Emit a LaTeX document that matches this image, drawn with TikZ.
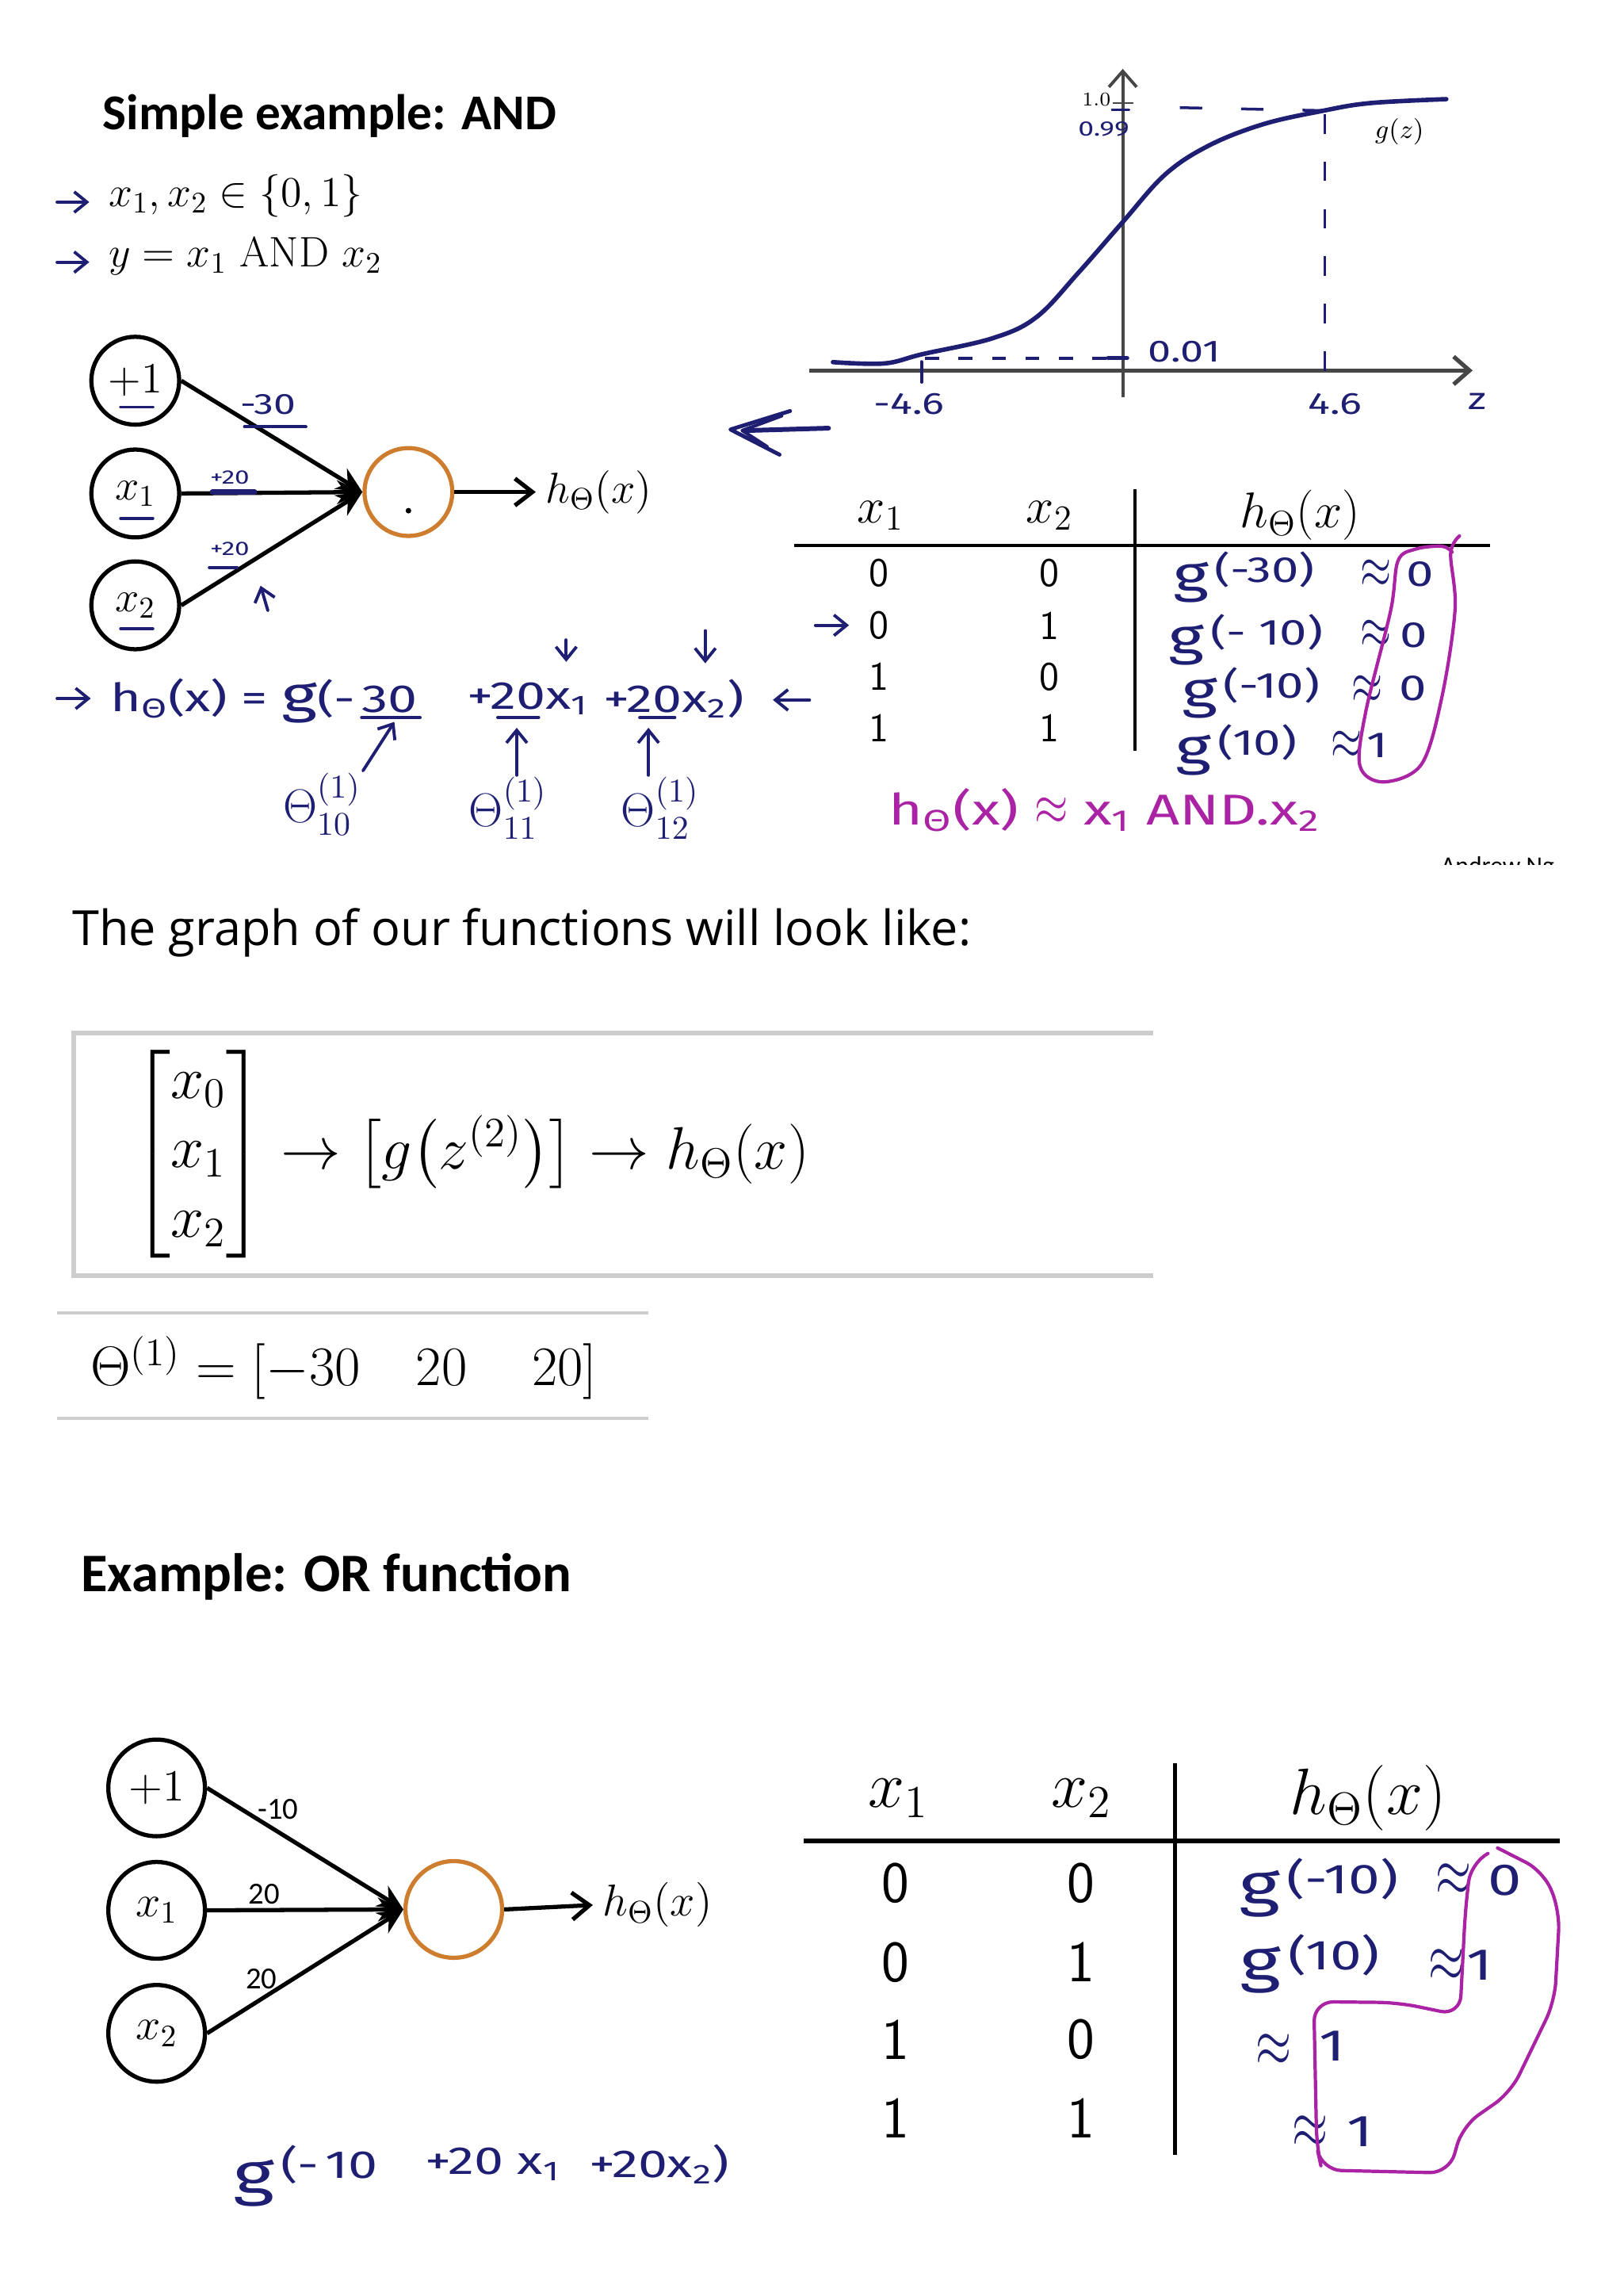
\RequirePackage{fix-cm}
\documentclass[tikz,border=0pt]{standalone}
\usepackage{amsmath}
\usepackage{graphicx}
\usepackage{fontspec}
\usetikzlibrary{arrows.meta}

\newfontfamily\slidefont{Carlito}
\newfontfamily\bodyfont{Open Sans}
\newfontfamily\handfont[FakeStretch=1.35]{Fira Sans}

\definecolor{ink}{RGB}{30,30,115}
\definecolor{pen}{RGB}{170,35,165}
\definecolor{neuron}{RGB}{205,125,45}
\definecolor{framegray}{RGB}{205,205,205}
\definecolor{axisgray}{RGB}{70,70,70}

\newcommand{\fs}[1]{\fontsize{#1}{#1}\selectfont}
\newcommand{\hg}[1]{\scalebox{1.4}{g}\,\raisebox{0.5ex}{(#1)}}
\newcommand{\hap}{\scalebox{1.1}[1.6]{$\approx$}}

\begin{document}
\begin{tikzpicture}[
    x=0.018467cm,
    y=-0.018467cm,
    innode/.style={circle, draw, line width=1.5pt, minimum size=1.108cm, inner sep=0pt, font=\fs{15.5}},
    outnode/.style={circle, draw=neuron, line width=1.5pt, minimum size=1.108cm, inner sep=0pt},
    wire/.style={line width=1.5pt, -{Stealth[length=3.2mm, width=3mm]}},
    outwire/.style={line width=1.5pt, -{Straight Barb[length=2.2mm, width=3.4mm]}},
    hand/.style={text=ink, inner sep=0.5pt, font=\handfont\fs{#1}},
    hand/.default=14,
    handline/.style={draw=ink, line width=1.1pt, line cap=round},
    handarrow/.style={draw=ink, line width=1.1pt, line cap=round, -{Straight Barb[length=1.6mm, width=2.6mm]}},
    penline/.style={draw=pen, line width=1.2pt, line cap=round, line join=round},
    rulebar/.style={line width=1.3pt},
    framebar/.style={draw=framegray, line width=1.7pt},
    thinbar/.style={draw=framegray, line width=1pt},
    digit/.style={font=\sffamily\fs{#1}, inner sep=0pt},
    digit/.default=14.5,
    axisline/.style={draw=axisgray, line width=1.1pt, -{Straight Barb[length=2mm, width=3.5mm]}}
  ]
  \useasboundingbox (0,0) rectangle (1109,1568);

  % --- AND: statement ---
  \node[anchor=base west, inner sep=0pt, font=\slidefont\bfseries\fs{18}] (title) at (70,88.4) {Simple example: AND};
  \node[anchor=base west, inner sep=0pt, font=\fs{15.3}] (dom) at (74,140.8) {$x_1, x_2 \in \{0,1\}$};
  \node[anchor=base west, inner sep=0pt, font=\fs{15.3}] (fn) at (74,182.3) {$y = x_1\ \mathrm{AND}\ x_2$};
  \coordinate (m1) at (39,138);
  \coordinate (m1e) at (61,138);
  \coordinate (m2) at (39,179);
  \coordinate (m2e) at (61,179);
  \draw[handarrow] (m1) -- (m1e);
  \draw[handarrow] (m2) -- (m2e);

  % --- AND: network ---
  \node[innode] (b1)  at (92.4,260)   {$+1$};
  \node[innode] (in1) at (92.4,337)   {$x_1$};
  \node[innode] (in2) at (92.4,413.4) {$x_2$};
  \node[outnode] (out) at (279,336) {};
  \fill ([yshift=-6.7pt]out.center) circle (1pt);
  \node[anchor=west, font=\fs{15.5}] (hyp) at (366,336) {$h_\Theta(x)$};

  \draw[wire] (b1.east) -- (out.west);
  \draw[wire] (in1.east) -- (out.west);
  \draw[wire] (in2.east) -- (out.west);
  \draw[outwire] (out.east) -- (hyp.west);

  % weights written by hand
  \node[hand=10.5] (w0) at (183,276) {-30};
  \node[hand=7] (w1) at (157,326) {+20};
  \node[hand=7] (w2) at (157,375) {+20};
  \draw[handline] (167,291.5) -- (209,291.5);
  \draw[handline, line width=1.8pt] (145,336) -- (174,336);
  \draw[handline] (143,387.5) -- (162,387.5);
  \draw[handline] ([shift={(-10,18)}]b1.center) -- ([shift={(12,18)}]b1.center);
  \draw[handline] ([shift={(-10,17)}]in1.center) -- ([shift={(12,17)}]in1.center);
  \draw[handline] ([shift={(-10,16)}]in2.center) -- ([shift={(12,16)}]in2.center);
  \coordinate (sa) at (183,417);
  \coordinate (sb) at (178,400);
  \draw[handarrow] (sa) -- (sb);

  % big arrow back to the network
  \coordinate (bigtail) at (566,292.4);
  \coordinate (bigneck) at (511,294);
  \coordinate (bigtip) at (499,293.3);
  \draw[handline, line width=1.7pt] (bigtail) -- (bigneck);
  \draw[handline, line width=1.4pt, line join=round] (539.7,280.7) -- (bigtip) -- (532.5,310.5);
  \draw[handline, line width=1.2pt, line join=round] (534,284) -- (507,294) -- (524,305);

  % --- AND: hypothesis written out ---
  \node[hand, anchor=west] (fh)  at (74,477)  {h\textsubscript{Θ}(x) =};
  \node[hand, anchor=west] (fg)  at (191,479) {\scalebox{1.3}{g}(-\,30};
  \node[hand, anchor=west] (fx1) at (318,477) {+20x\textsubscript{1}};
  \node[hand, anchor=west] (fx2) at (411,477) {+20x\textsubscript{2})};
  \coordinate (fa) at (39,477);
  \coordinate (fae) at (62,477);
  \coordinate (fb) at (553,478);
  \coordinate (fc) at (528,478);
  \draw[handarrow] (fa) -- (fae);
  \draw[handarrow] (fb) -- (fc);
  \draw[handline] (247,490) -- (287,490);
  \draw[handline] (340,490) -- (368,490);
  \draw[handline] (437,490) -- (461,490);
  \coordinate (d1) at (386.8,437);
  \coordinate (d1e) at (386.8,452);
  \coordinate (d2) at (481.8,430.7);
  \coordinate (d2e) at (481.8,453);
  \draw[handarrow] (d1) -- (d1e);
  \draw[handarrow] (d2) -- (d2e);

  \node[hand=17] (t10) at (220,549) {$\Theta^{(1)}_{10}$};
  \node[hand=17] (t11) at (347,552) {$\Theta^{(1)}_{11}$};
  \node[hand=17] (t12) at (451,552) {$\Theta^{(1)}_{12}$};
  \coordinate (c10) at (269.4,493);
  \coordinate (c11) at (353,497);
  \coordinate (c12) at (443,497);
  \draw[handarrow] (t10.north east) -- (c10);
  \draw[handarrow] (t11.north -| c11) -- (c11);
  \draw[handarrow] (t12.north -| c12) -- (c12);

  % --- AND: sigmoid ---
  \coordinate (zl) at (553,253);
  \coordinate (zr) at (1006,253);
  \coordinate (gb) at (767,271);
  \coordinate (gt) at (767,47);
  \draw[axisline, line width=1.5pt] (zl) -- (zr);
  \draw[axisline] (gb) -- (gt);
  \draw[axisgray, line width=0.8pt] (760,70.4) -- (774,70.4);
  \node[font=\fs{7}, inner sep=0pt] (one) at (749,68) {1.0};
  \draw[ink, line width=1.6pt, line cap=round] plot[smooth, tension=0.6] coordinates {
    (569,247.3) (604,248.2) (630,241.9) (678,231) (708,216.6) (737,185.9) (767,151.6)
    (796,119.1) (826,99.3) (863,84.8) (903,75.8) (936,70.4) (988,67.7)};
  \draw[ink, line width=1pt, dash pattern=on 5pt off 7pt] (632,244.6) -- (757,244.6);
  \draw[handline, line width=1.5pt] (757,244.6) -- (770,244.6);
  \draw[handline] (760,75) -- (771,75);
  \draw[ink, line width=1pt, dash pattern=on 8pt off 14pt] (806,73.5) -- (903,75.5);
  \draw[ink, line width=1pt, dash pattern=on 7pt off 10pt] (905,78) -- (905,262);
  \draw[handline] (629.5,247) -- (629.5,261);
  \node[hand=7.5] (p99) at (754,88) {0.99};
  \node[hand=11] (p01) at (809,240) {0.01};
  \node[hand=11] (lz1) at (621,276) {-4.6};
  \node[hand=11] (lz2) at (912,276) {4.6};
  \node[hand=11] (zlab) at (1009,274) {z};
  \node[font=\fs{9.5}] (gz) at (956,90) {$g(z)$};

  % --- AND: truth table ---
  \node[font=\fs{18}] (h1) at (601.5,352) {$x_1$};
  \node[font=\fs{18}] (h2) at (717,352)   {$x_2$};
  \node[font=\fs{18}] (h3) at (888,352)   {$h_\Theta(x)$};
  \draw[rulebar] (542.4,372.4) -- (1017.8,372.4);
  \draw[rulebar] (775.4,333.8) -- (775.4,512.5);

  \node[digit] (a1) at (600.6,391.3) {0};
  \node[digit] (b1r) at (717,391.3) {0};
  \node[digit] (a2) at (600.6,427.2) {0};
  \node[digit] (b2r) at (717,427.2) {1};
  \node[digit] (a3) at (600.6,462.2) {1};
  \node[digit] (b3r) at (717,462.2) {0};
  \node[digit] (a4) at (600.6,497.3) {1};
  \node[digit] (b4r) at (717,497.3) {1};
  \coordinate (ra) at (557,427);
  \coordinate (rae) at (580,427);
  \draw[handarrow] (ra) -- (rae);

  \node[hand=13, anchor=west] (g1) at (800,394) {\hg{-30}};
  \node[hand=13] (ap1) at (940,392) {\hap};
  \node[hand=13] (v1) at (970,392) {0};
  \node[hand=13, anchor=west] (g2) at (797,437) {\hg{- 10}};
  \node[hand=13] (ap2) at (940,433) {\hap};
  \node[hand=13] (v2) at (966,434) {0};
  \node[hand=13, anchor=west] (g3) at (806,473) {\hg{-10}};
  \node[hand=13] (ap3) at (934,471) {\hap};
  \node[hand=13] (v3) at (965,470) {0};
  \node[hand=13, anchor=west] (g4) at (802,512) {\hg{10}};
  \node[hand=13] (ap4) at (920,509) {\hap};
  \node[hand=13] (v4) at (941,509) {1};

  \draw[penline] plot[smooth, tension=0.55] coordinates {
    (997,366) (991,378) (994,416) (985,476) (971,522) (945,534) (929,523)
    (933,486) (950,417) (955,383) (967,375) (985,373) (992,377)};
  \node[text=pen, inner sep=0pt, font=\handfont\fs{15.5}, anchor=west] (andres) at (607,553)
    {h\textsubscript{Θ}(x) \scalebox{1}[1.3]{$\approx$} x\textsubscript{1} AND.x\textsubscript{2}};

  \begin{scope}
    \clip (975,582) rectangle (1065,590.5);
    \node[font=\slidefont\fs{9}, anchor=north west, inner sep=0pt] (credit) at (984,584.5) {Andrew Ng};
  \end{scope}

  % --- graph of the functions ---
  \node[anchor=base west, inner sep=0pt, font=\bodyfont\fs{17.4}] (graphtxt) at (49,645.4) {The graph of our functions will look like:};
  \draw[framebar] (788,705.6) -- (50.3,705.6) -- (50.3,871.4) -- (788,871.4);
  \node[anchor=west, inner sep=0pt, font=\fontsize{21.5}{25}\selectfont] (chain) at (90,788)
    {$\begin{bmatrix} x_0 \\ x_1 \\ x_2 \end{bmatrix} \rightarrow \left[ g\bigl(z^{(2)}\bigr) \right] \rightarrow h_\Theta(x)$};
  \draw[thinbar] (38.9,896.5) -- (443,896.5);
  \draw[thinbar] (38.9,968.6) -- (443,968.6);
  \node[anchor=west, inner sep=0pt, font=\fs{20}] (theta) at (61.5,934)
    {$\Theta^{(1)} = \left[-30\quad 20\quad\, 20\right]$};

  % --- OR: network ---
  \node[anchor=base west, inner sep=0pt, font=\slidefont\bfseries\fs{19.5}] (title2) at (55,1086.7) {Example: OR function};
  \node[innode, minimum size=1.219cm, font=\fs{16}] (ob1)  at (107,1221)   {$+1$};
  \node[innode, minimum size=1.219cm, font=\fs{16}] (oin1) at (107,1304.6) {$x_1$};
  \node[innode, minimum size=1.219cm, font=\fs{16}] (oin2) at (107,1388.6) {$x_2$};
  \node[outnode, minimum size=1.219cm] (oout) at (310,1304) {};
  \node[anchor=west, font=\fs{16}] (ohyp) at (405,1301) {$h_\Theta(x)$};

  \draw[wire] (ob1.east) -- (oout.west);
  \draw[wire] (oin1.east) -- (oout.west);
  \draw[wire] (oin2.east) -- (oout.west);
  \draw[outwire] (oout.east) -- (ohyp.west);

  \node[font=\slidefont\fs{11}, inner sep=0pt] (ow0) at (190,1235.5) {-10};
  \node[font=\slidefont\fs{11}, inner sep=0pt] (ow1) at (180.5,1293.7) {20};
  \node[font=\slidefont\fs{11}, inner sep=0pt] (ow2) at (178.5,1351.6) {20};

  \node[hand, anchor=west] (of0) at (158,1486) {\scalebox{1.5}{g}\,\raisebox{0.8ex}{(-\,10}};
  \node[hand, anchor=west] (of1) at (289,1478) {+20 x\textsubscript{1}};
  \node[hand, anchor=west] (of2) at (401,1478) {+20x\textsubscript{2})};

  % --- OR: truth table ---
  \node[font=\fs{23.5}] (oh1) at (613.6,1228) {$x_1$};
  \node[font=\fs{23.5}] (oh2) at (739,1228)   {$x_2$};
  \node[font=\fs{23.5}] (oh3) at (934.5,1228) {$h_\Theta(x)$};
  \draw[rulebar, line width=1.5pt] (549,1257.2) -- (1065.5,1257.2);
  \draw[rulebar, line width=1.5pt] (802.5,1204.3) -- (802.5,1471.6);

  \node[digit=21] (oa1) at (611.7,1286.2) {0};
  \node[digit=21] (ob1r) at (738.6,1286.2) {0};
  \node[digit=21] (oa2) at (611.7,1340) {0};
  \node[digit=21] (ob2r) at (738.6,1340) {1};
  \node[digit=21] (oa3) at (611.7,1392.9) {1};
  \node[digit=21] (ob3r) at (738.6,1392.9) {0};
  \node[digit=21] (oa4) at (611.7,1446.8) {1};
  \node[digit=21] (ob4r) at (738.6,1446.8) {1};

  \node[hand=15, anchor=west] (og1) at (845,1289) {\hg{-10}};
  \node[hand=15] (oap1) at (993,1284) {\hap};
  \node[hand=16] (ov1) at (1028,1284) {0};
  \node[hand=15, anchor=west] (og2) at (846,1341) {\hg{10}};
  \node[hand=15] (oap2) at (988,1342) {\hap};
  \node[hand=16] (ov2) at (1011,1342) {1};
  \node[hand=15] (oap3) at (870,1400) {\hap};
  \node[hand=16] (ov3) at (910,1397) {1};
  \node[hand=15] (oap4) at (895,1456) {\hap};
  \node[hand=16] (ov4) at (929,1456) {1};

  \draw[penline, rounded corners=7pt] (1023,1262) -- (1054.5,1278) -- (1065.5,1305) -- (1062,1367)
    -- (1032,1429) -- (999,1452) -- (990,1484) -- (903,1482) -- (899.5,1466) -- (897.5,1367)
    -- (955,1367.6) -- (997.3,1376.3) -- (1001,1305) -- (1004.7,1272) -- (1016,1266);
\end{tikzpicture}
\end{document}
